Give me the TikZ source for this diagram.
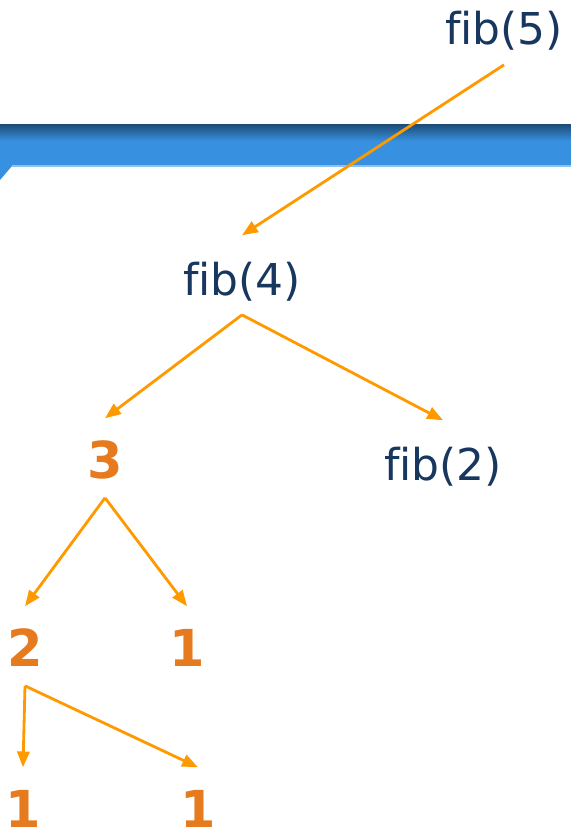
\documentclass[tikz,border=0pt]{standalone}
\usepackage{fontspec}
\setmainfont{DejaVu Sans}[Ligatures=NoCommon]
\usetikzlibrary{arrows.meta}
\definecolor{navy800}  {HTML}{17375E}
\definecolor{orange600}{HTML}{E67A1E}
\definecolor{amber500} {HTML}{FF9900}
\definecolor{blue900}  {HTML}{1D4A74}
\definecolor{blue500}  {HTML}{3791E0}
\definecolor{blue300}  {HTML}{8CC2F0}
\tikzset{
  call/.style ={anchor=base, inner sep=0pt, outer sep=0pt,
                text height=34pt, text depth=11.3pt,
                font=\fontsize{25}{30}\selectfont, text=navy800},
  val/.style  ={anchor=base, inner sep=0pt, outer sep=0pt,
                text height=34pt, text depth=11.3pt,
                font=\fontsize{29}{33}\selectfont\bfseries, text=orange600},
  leaf/.style ={val, text depth=0.5pt},
  ar/.style   ={-{Triangle[length=9pt,width=7pt]}, draw=amber500,
                line width=1.6pt}
}

\begin{document}
\begin{tikzpicture}[x=0.02cm,y=-0.02cm]
\useasboundingbox (0,0) rectangle (571,838);
% title band
\fill[blue500] (0,124) rectangle (571,166);
\shade[top color=blue900, bottom color=blue500] (0,124) rectangle (571,141);
\fill[blue500] (0,166) -- (12,166) -- (0,180) -- cycle;
\draw[blue300, line width=0.6pt] (12,166) -- (571,166);

\node[call] (fibfive) at (504,45)  {fib(5)};
\node[call] (fibfour) at (242,295) {fib(4)};
\node[call] (fibtwo)  at (443,480) {fib(2)};
\node[val]  (three)   at (105,478) {3};
\node[val]  (two)     at (25,666)  {2};
\node[val]  (oneA)    at (187,666) {1};
\node[leaf] (oneB)    at (23,827)  {1};
\node[leaf] (oneC)    at (198,827) {1};

\draw[ar] (fibfive.south) -- (fibfour.north);
\draw[ar] (fibfour.south) -- (three.north);
\draw[ar] (fibfour.south) -- (fibtwo.north);
\draw[ar] (three.south) -- (two.north);
\draw[ar] (three.south) -- (oneA.north);
\draw[ar] (two.south) -- (oneB.north);
\draw[ar] (two.south) -- (oneC.north);
\end{tikzpicture}
\end{document}
